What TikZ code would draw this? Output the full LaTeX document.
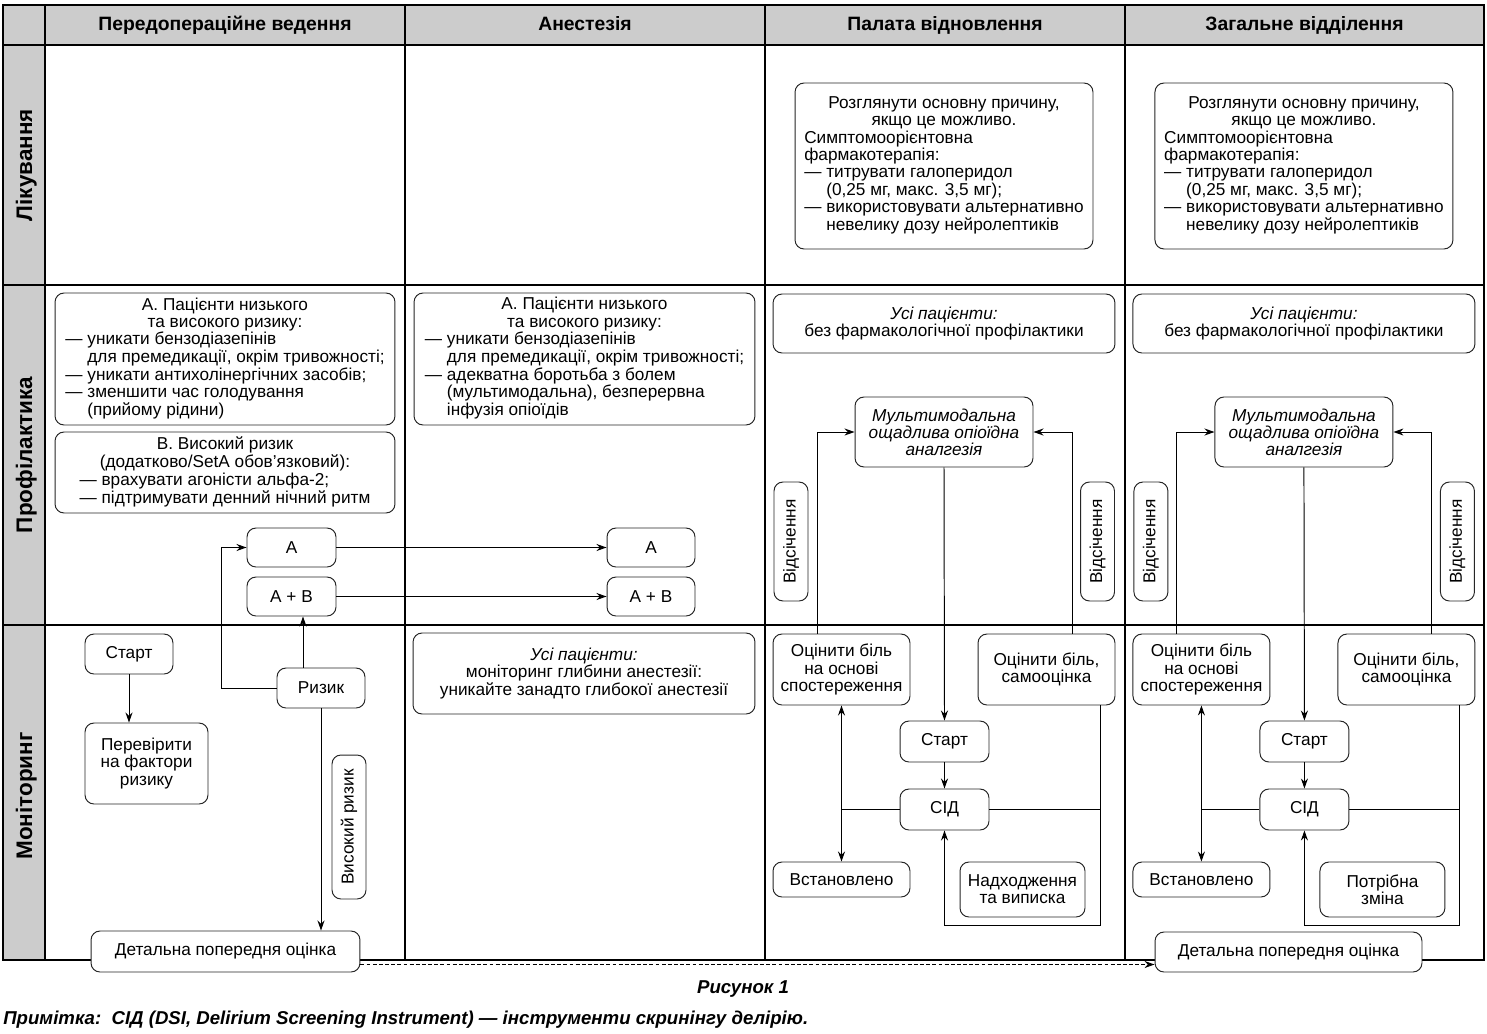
\documentclass[tikz,border=0pt]{standalone}
\usepackage{fontspec}
\setmainfont{Liberation Sans}
\usetikzlibrary{arrows.meta}

\tikzset{
  box/.style={draw=black!85,fill=white,rounded corners=0.18cm,line width=0.55pt,inner sep=2pt,align=center,font=\fontsize{9.8}{9.7}\selectfont},
  itbox/.style={box,font=\fontsize{9.8}{9.7}\selectfont\itshape},
  arr/.style={-{Stealth[length=0.2cm,width=0.14cm]},line width=0.55pt},
  grid/.style={line width=0.7pt},
  head/.style={font=\bfseries\fontsize{11}{12}\selectfont,anchor=base},
  lane/.style={font=\bfseries\fontsize{12.8}{14}\selectfont,rotate=90,anchor=base},
  foot/.style={font=\bfseries\itshape\fontsize{10.6}{12}\selectfont,inner sep=0pt,anchor=base}
}
\newcommand{\ctrln}[1]{\multicolumn{1}{@{}c@{}}{#1}}
\newcommand{\hng}{\hphantom{—}\ }

\begin{document}
\begin{tikzpicture}[x=0.02cm,y=-0.02cm]
\useasboundingbox (0,0) rectangle (1487,1034);
\fill[black!20] (3,5) rectangle (1484,45);
\fill[black!20] (3,45) rectangle (45,960);
\draw[grid] (3,5) rectangle (1484,960);
\draw[grid] (3,45) -- (1484,45);
\foreach \y in {285,625} \draw[grid] (3,\y) -- (1484,\y);
\foreach \x in {45,405,765,1125} \draw[grid] (\x,5) -- (\x,960);

\node[head] (h1) at (225,31) {Передопераційне ведення};
\node[head] (h2) at (585,31) {Анестезія};
\node[head] (h3) at (945,31) {Палата відновлення};
\node[head] (h4) at (1304.5,31) {Загальне відділення};
\node[lane] (l1) at (32,165) {Лікування};
\node[lane] (l2) at (32,455) {Профілактика};
\node[lane] (l3) at (32,796) {Моніторинг};

\node[box,minimum width=6.8cm,minimum height=2.64cm] (pa1) at (225,359) {\begin{tabular}{@{}l@{}}
\ctrln{А. Пацієнти низького}\\
\ctrln{та високого ризику:}\\
— уникати бензодіазепінів\\
\hng для премедикації, окрім тривожності;\\
— уникати антихолінергічних засобів;\\
— зменшити час голодування\\
\hng(прийому рідини)
\end{tabular}};
\node[box,minimum width=6.8cm,minimum height=1.62cm] (pb1) at (225,472.5) {\begin{tabular}{@{}l@{}}
\ctrln{В. Високий ризик}\\
\ctrln{(додатково/SetA обов’язковий):}\\
— врахувати агоністи альфа-2;\\
— підтримувати денний нічний ритм
\end{tabular}};
\node[box,minimum width=6.82cm,minimum height=2.64cm] (pa2) at (584.5,359) {\begin{tabular}{@{}l@{}}
\ctrln{А. Пацієнти низького}\\
\ctrln{та високого ризику:}\\
— уникати бензодіазепінів\\
\hng для премедикації, окрім тривожності;\\
— адекватна боротьба з болем\\
\hng(мультимодальна), безперервна\\
\hng інфузія опіоїдів
\end{tabular}};

\node[box,minimum width=1.78cm,minimum height=0.78cm] (a1) at (291.5,547.5) {А};
\node[box,minimum width=1.78cm,minimum height=0.78cm] (ab1) at (291.5,596.5) {А + В};
\node[box,minimum width=1.76cm,minimum height=0.78cm] (a2) at (651,547.5) {А};
\node[box,minimum width=1.76cm,minimum height=0.78cm] (ab2) at (651,596.5) {А + В};
\draw[arr] (a1.east) -- (a2.west);
\draw[arr] (ab1.east) -- (ab2.west);

\node[box,minimum width=1.76cm,minimum height=0.8cm] (start1) at (129,654) {Старт};
\node[box,minimum width=2.46cm,minimum height=1.62cm] (check) at (146.5,763.5) {Перевірити\\на фактори\\ризику};
\node[box,minimum width=1.76cm,minimum height=0.8cm] (risk) at (321,688) {Ризик};
\node[box,rotate=90,minimum width=2.88cm,minimum height=0.68cm] (high) at (349,827) {Високий ризик};
\node[box,minimum width=5.38cm,minimum height=0.82cm] (det1) at (225.5,951.5) {Детальна попередня оцінка};
\node[box,minimum width=6.84cm,minimum height=1.62cm] (mon2) at (584,673.5) {{\itshape Усі пацієнти:}\\моніторинг глибини анестезії:\\уникайте занадто глибокої анестезії};

\draw[arr] (start1.south) -- (start1.south |- check.north);
\draw[arr] ([xshift=-0.36cm]risk.north |- risk.north) -- ([xshift=-0.36cm]risk.north |- ab1.south);
\draw[arr] (risk.west) -- ++(-55,0) |- (a1.west);
\draw[arr] (risk.south) -- (risk.south |- det1.north);

\foreach \c/\dx/\btmtxt in {3/0/{Надходження\\та виписка},4/7.2/{Потрібна\\зміна}}{
\begin{scope}[xshift=\dx cm]
\node[box,minimum width=5.96cm,minimum height=3.32cm] (treat\c) at (944,166) {\begin{tabular}{@{}l@{}}
\ctrln{Розглянути основну причину,}\\
\ctrln{якщо це можливо.}\\
Симптомоорієнтовна\\
фармакотерапія:\\
— титрувати галоперидол\\
\hng(0,25 мг, макс. 3,5 мг);\\
— використовувати альтернативно\\
\hng невелику дозу нейролептиків
\end{tabular}};
\node[box,minimum width=6.84cm,minimum height=1.18cm] (all\c) at (944,323.5) {{\itshape Усі пацієнти:}\\без фармакологічної профілактики};
\node[itbox,minimum width=3.56cm,minimum height=1.4cm] (mult\c) at (944,432) {Мультимодальна\\ощадлива опіоїдна\\аналгезія};
\node[box,rotate=90,minimum width=2.38cm,minimum height=0.68cm] (cutl\c) at (791,541.5) {Відсічення};
\node[box,rotate=90,minimum width=2.38cm,minimum height=0.68cm] (cutr\c) at (1097.5,541.5) {Відсічення};
\node[box,minimum width=2.74cm,minimum height=1.42cm] (obs\c) at (841.5,669.5) {Оцінити біль\\на основі\\спостереження};
\node[box,minimum width=2.74cm,minimum height=1.42cm] (self\c) at (1046.5,669.5) {Оцінити біль,\\самооцінка};
\node[box,minimum width=1.78cm,minimum height=0.82cm] (start\c) at (944.5,741.5) {Старт};
\node[box,minimum width=1.78cm,minimum height=0.82cm] (sid\c) at (944.5,809.5) {СІД};
\node[box,minimum width=2.74cm,minimum height=0.7cm] (est\c) at (841.5,879.5) {Встановлено};
\node[box,minimum width=2.5cm,minimum height=1.1cm] (btm\c) at (1022.5,889.5) {\btmtxt};
\draw[arr] (mult\c.south) -- (start\c.north);
\draw[arr] (start\c.south) -- (sid\c.north);
\draw[arr] ([xshift=-0.49cm]obs\c.north) |- (mult\c.west);
\draw[arr] ([xshift=0.51cm]self\c.north) |- (mult\c.east);
\coordinate (jl\c) at (sid\c.west -| obs\c.south);
\coordinate (jr\c) at ([xshift=1.07cm]self\c.south);
\draw (sid\c.west) -- (jl\c);
\draw[arr] (jl\c) -- (obs\c.south);
\draw[arr] (jl\c) -- (est\c.north);
\draw (sid\c.east) -- (sid\c.east -| jr\c);
\draw[arr] (jr\c) -- ++(0,220) -| (sid\c.south);
\end{scope}
}

\node[box,minimum width=5.34cm,minimum height=0.8cm] (det4) at (1288.5,952) {Детальна попередня оцінка};
\draw[arr,dash pattern=on 2.2pt off 1.3pt] ([yshift=-0.26cm]det1.east) -- ([yshift=-0.26cm]det1.east -| det4.west);

\node[foot] (fig) at (743,993) {Рисунок 1};
\node[foot,anchor=base west] (note) at (3,1024) {Примітка:\ \ СІД (DSI, Delirium Screening Instrument) — інструменти скринінгу делірію.};
\end{tikzpicture}
\end{document}
